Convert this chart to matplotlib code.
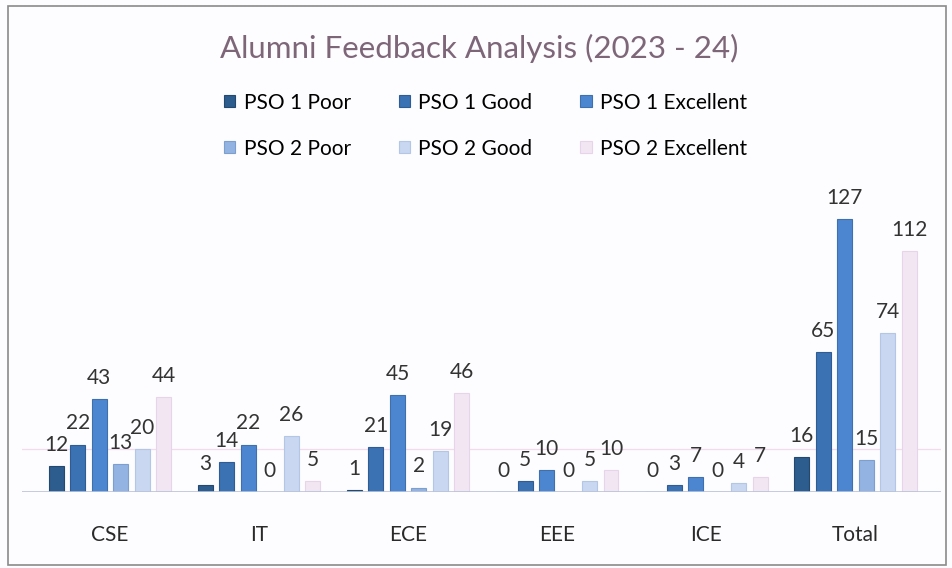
import numpy as np
import matplotlib.pyplot as plt
from matplotlib.patches import Rectangle

# categories and series
depts = ["CSE", "IT", "ECE", "EEE", "ICE", "Total"]
series = ["PSO 1 Poor", "PSO 1 Good", "PSO 1 Excellent",
          "PSO 2 Poor", "PSO 2 Good", "PSO 2 Excellent"]
pso1_poor = [12, 3, 1, 0, 0, 16]
pso1_good = [22, 14, 21, 5, 3, 65]
pso1_exc = [43, 22, 45, 10, 7, 127]
pso2_poor = [13, 0, 2, 0, 0, 15]
pso2_good = [20, 26, 19, 5, 4, 74]
pso2_exc = [44, 5, 46, 10, 7, 112]

values = [pso1_poor, pso1_good, pso1_exc, pso2_poor, pso2_good, pso2_exc]
colors = ["#2d5c8e", "#3b72b4", "#4d86d0", "#93b3e3", "#c9d7f1", "#f3e6f3"]
edges = ["#24496f", "#2f5d93", "#3f70ae", "#7d9fd0", "#b4c6e6", "#e8d4ea"]

fig = plt.figure(figsize=(9.52, 5.68), dpi=100)
fig.patch.set_facecolor("#fdfcfe")
ax = fig.add_axes([0.023, 0.134, 0.965, 0.53])
ax.set_facecolor("none")

x = np.arange(len(depts))
step = 0.144
w = 0.1
for i, (name, vals) in enumerate(zip(series, values)):
    pos = x + (i - 2.5) * step
    bars = ax.bar(pos, vals, width=w, color=colors[i], edgecolor=edges[i],
                  linewidth=0.8, label=name, zorder=3)
    for b, v in zip(bars, vals):
        ax.annotate(str(v), (b.get_x() + b.get_width() / 2, v),
                    xytext=(0, 8), textcoords="offset points",
                    ha="center", va="bottom", fontsize=15,
                    family="Lato", color="#333333")

ax.set_xlim(-0.59, 5.57)
ax.set_ylim(0, 140)
ax.axhline(0, color="#b9c3d8", lw=1.2, zorder=4)
ax.axhline(20, color="#f0dcec", lw=0.9, zorder=1)
for s in ax.spines.values():
    s.set_visible(False)
ax.set_yticks([])
ax.set_xticks(x)
ax.set_xticklabels(depts, fontsize=15, family="Lato", color="#2a2a2a")
ax.tick_params(axis="x", length=0, pad=24)

fig.text(0.503, 0.915, "Alumni Feedback Analysis (2023 - 24)", ha="center",
         va="center", fontsize=22.5, family="Lato", color="#7e6679")

# legend filled row by row
handles, labels = ax.get_legend_handles_labels()
order = [0, 3, 1, 4, 2, 5]
fig.legend([handles[k] for k in order], [labels[k] for k in order],
           loc="center", bbox_to_anchor=(0.51, 0.779),
           ncol=3, frameon=False, prop={"family": "Lato", "size": 15},
           handlelength=0.55, handleheight=0.55, columnspacing=2.3,
           labelspacing=1.25, handletextpad=0.4)

fig.patches.append(Rectangle((0.008, 0.006), 0.986, 0.984, transform=fig.transFigure,
                             fill=False, edgecolor="#8a8a8a", lw=1.2))

fig.savefig("out.png", dpi=100)
